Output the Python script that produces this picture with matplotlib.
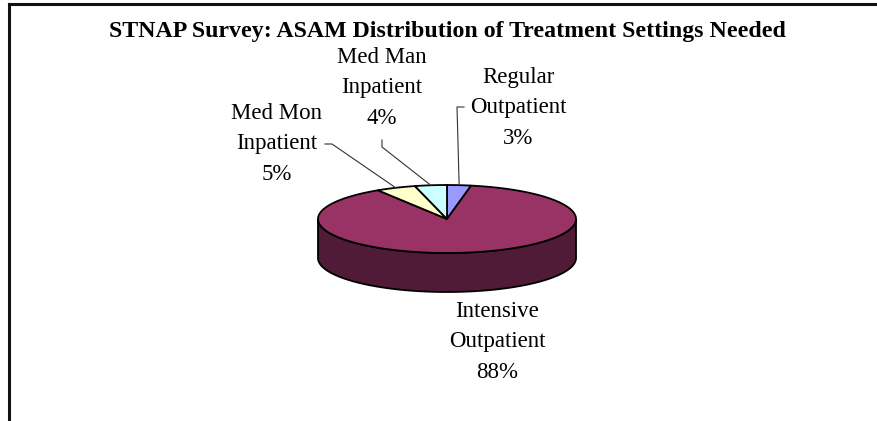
import numpy as np
import matplotlib
matplotlib.use("Agg")
import matplotlib.pyplot as plt
from matplotlib.patches import Polygon
from matplotlib.lines import Line2D

plt.rcParams['font.family'] = ['Liberation Serif', 'DejaVu Serif']

title = "STNAP Survey: ASAM Distribution of Treatment Settings Needed"
labels = ["Regular\nOutpatient", "Intensive\nOutpatient", "Med Mon\nInpatient", "Med Man\nInpatient"]
shares = [3, 88, 5, 4]
top_colors = ["#9999FF", "#993366", "#FFFFCC", "#CCFFFF"]
side_colors = ["#4C4C80", "#4F1B36", "#808066", "#668080"]

# label text centre and leader bend points (pixel layout)
label_pos = [(518, 108), (497, 342), (277, 144), (382, 88)]
leaders = [[(464, 107), (457, 107)], None, [(325, 144), (332, 144)], [(382, 140), (382, 147)]]

cx, cy, rx, ry, depth = 447, 219, 129, 34, 39


def ell(theta_deg, dy=0.0):
    t = np.radians(theta_deg)
    return np.column_stack([cx + rx * np.cos(t), cy - ry * np.sin(t) + dy])


fig = plt.figure(figsize=(8.78, 4.21), dpi=100)
ax = fig.add_axes([0, 0, 1, 1])
ax.set_xlim(0, 878)
ax.set_ylim(421, 0)
ax.axis('off')

# outer frame (only top and left visible)
ax.add_line(Line2D([9, 878], [4, 4], color='#111111', lw=2.2))
ax.add_line(Line2D([9, 9], [4, 421], color='#111111', lw=2.2))

total = float(sum(shares))
bounds = np.concatenate([[0], np.cumsum(shares)]) / total
angles = [(90 - 360 * bounds[i], 90 - 360 * bounds[i + 1]) for i in range(len(shares))]

# side walls (front half of the disc only)
for (a_start, a_end), col in zip(angles, side_colors):
    lo, hi = a_end, a_start
    for k in (0, -1):
        f_lo, f_hi = -180 + 360 * k, 360 * k
        s_lo, s_hi = max(lo, f_lo), min(hi, f_hi)
        if s_hi - s_lo <= 0:
            continue
        th = np.linspace(s_lo, s_hi, 120)
        pts = np.vstack([ell(th), ell(th[::-1], depth)])
        ax.add_patch(Polygon(pts, closed=True, fc=col, ec='black', lw=1.3, zorder=2))

# top wedges
for (a_start, a_end), col in zip(angles, top_colors):
    th = np.linspace(a_start, a_end, 200)
    pts = np.vstack([[cx, cy], ell(th)])
    ax.add_patch(Polygon(pts, closed=True, fc=col, ec='black', lw=1.3, zorder=3))

# labels and leader lines
for i, (lab, val) in enumerate(zip(labels, shares)):
    x, y = label_pos[i]
    ax.text(x, y, f"{lab}\n{val}%", ha='center', va='center', fontsize=16.5,
            linespacing=1.62, zorder=5)
    if leaders[i] is not None:
        mid = (angles[i][0] + angles[i][1]) / 2
        edge = ell(np.array([mid]))[0]
        xs = [p[0] for p in leaders[i]] + [edge[0]]
        ys = [p[1] for p in leaders[i]] + [edge[1]]
        ax.add_line(Line2D(xs, ys, color='#333333', lw=0.8, zorder=4))

ax.text(447, 31, title, ha='center', va='center', fontsize=17.2, fontweight='bold')

fig.savefig("out.png", dpi=100)
